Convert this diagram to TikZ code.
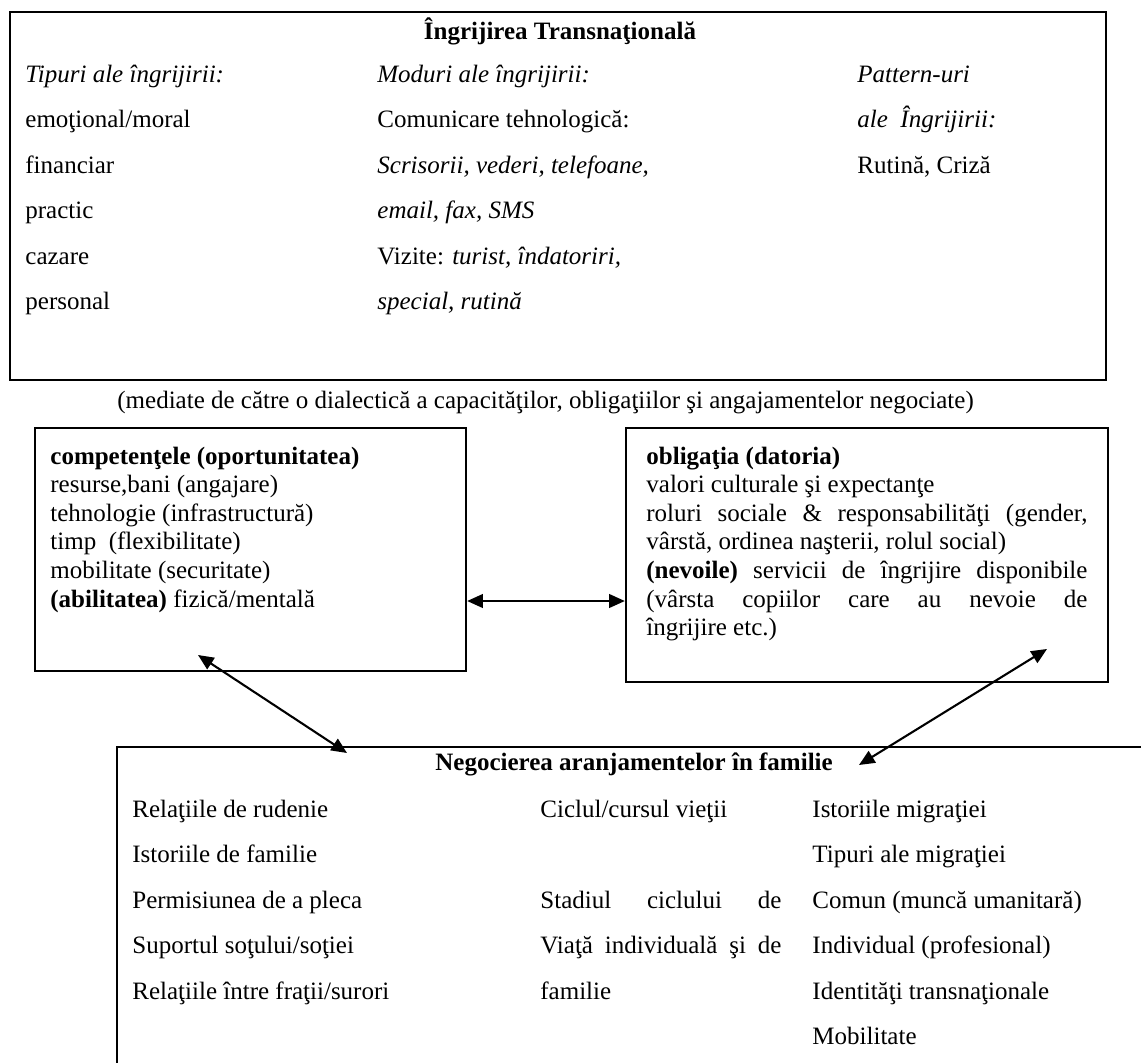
\documentclass[tikz,border=0pt]{standalone}
\usepackage{fontspec}
\setmainfont{Liberation Serif}
\usepackage{xcolor}
\usepackage{tikz}
\usetikzlibrary{positioning,arrows.meta,fit}
\definecolor{ink}   {HTML}{000000}
\definecolor{paper} {HTML}{FFFFFF}
\newcommand{\bodyfont}{\fontsize{12}{13.75}\selectfont}
\newcommand{\spreadbox}[2]{\makebox[#1][s]{#2}}
\tikzset{
  txt/.style   = {anchor=base west, inner sep=0pt, text=ink, font=\bodyfont},
  itx/.style   = {txt, font=\bodyfont\itshape},
  hd/.style    = {txt, font=\bodyfont\bfseries},
  frame/.style = {draw=ink, line width=1.1pt, inner sep=0pt},
  link/.style  = {{Triangle[length=7.5pt,width=6.5pt]}-{Triangle[length=7.5pt,width=6.5pt]},
                  draw=ink, line width=1pt},
}

\begin{document}
\begin{tikzpicture}[x=0.48pt, y=-0.48pt]
  \useasboundingbox[fill=paper] (0,0) rectangle (1141,1063);

  % top box
  \coordinate (careNW) at (10,12);
  \coordinate (careSE) at (1106,380);
  \node[frame, fit=(careNW)(careSE)] (care) {};
  \node[hd, anchor=base] (careT) at (560,39) {Îngrijirea Transnaţională};
  \node[itx] (tip0) at (25,82)    {Tipuri ale îngrijirii:};
  \node[txt] (tip1) at (25,127.5) {emoţional/moral};
  \node[txt] (tip2) at (25,173)   {financiar};
  \node[txt] (tip3) at (25,218.5) {practic};
  \node[txt] (tip4) at (25,264)   {cazare};
  \node[txt] (tip5) at (25,309.5) {personal};
  \node[itx] (mod0) at (377,82)    {Moduri ale îngrijirii:};
  \node[txt] (mod1) at (377,127.5) {Comunicare tehnologică:};
  \node[itx] (mod2) at (377,173)   {Scrisorii, vederi, telefoane,};
  \node[itx] (mod3) at (377,218.5) {email, fax, SMS};
  \node[txt] (mod4) at (377,264)   {Vizite: \textit{turist, îndatoriri,}};
  \node[itx] (mod5) at (377,309.5) {special, rutină};
  \node[itx] (pat0) at (857,82)    {Pattern-uri};
  \node[itx] (pat1) at (857,127.5) {ale\ \ Îngrijirii:};
  \node[txt] (pat2) at (857,173)   {Rutină, Criză};

  \node[txt] (cap) at (117,408)
    {(mediate de către o dialectică a capacităţilor, obligaţiilor şi angajamentelor negociate)};

  % left box
  \coordinate (compNW) at (35,428);
  \coordinate (compSE) at (466,671);
  \node[frame, fit=(compNW)(compSE)] (comp) {};
  \node[hd]  (comp1) at (50,464)   {competenţele (oportunitatea)};
  \node[txt] (comp2) at (50,492.6) {resurse,bani (angajare)};
  \node[txt] (comp3) at (50,521.2) {tehnologie (infrastructură)};
  \node[txt] (comp4) at (50,549.8) {timp\ \ (flexibilitate)};
  \node[txt] (comp5) at (50,578.4) {mobilitate (securitate)};
  \node[txt] (comp6) at (50,607)   {\textbf{(abilitatea)} fizică/mentală};

  % right box
  \coordinate (oblNW) at (626,428);
  \coordinate (oblSE) at (1108,682);
  \node[frame, fit=(oblNW)(oblSE)] (obl) {};
  \node[hd]  (obl1) at (646,464)   {obligaţia (datoria)};
  \node[txt] (obl2) at (646,492.6) {valori culturale şi expectanţe};
  \node[txt] (obl3) at (646,521.2) {\spreadbox{211.7pt}{roluri sociale \& responsabilităţi (gender,}};
  \node[txt] (obl4) at (646,549.8) {vârstă, ordinea naşterii, rolul social)};
  \node[txt] (obl5) at (646,578.4) {\spreadbox{211.7pt}{\textbf{(nevoile)} servicii de îngrijire disponibile}};
  \node[txt] (obl6) at (646,607)   {\spreadbox{211.7pt}{(vârsta copiilor care au nevoie de}};
  \node[txt] (obl7) at (646,635.6) {îngrijire etc.)};

  % bottom box
  \coordinate (negNE) at (1150,747);
  \coordinate (negNW) at (117,747);
  \coordinate (negSW) at (117,1075);
  \draw[frame] (negNE) -- (negNW) -- (negSW);
  \node[hd]  (negT) at (435,770) {Negocierea aranjamentelor în familie};
  \node[txt] (rel1) at (132,817)   {Relaţiile de rudenie};
  \node[txt] (rel2) at (132,862.5) {Istoriile de familie};
  \node[txt] (rel3) at (132,908)   {Permisiunea de a pleca};
  \node[txt] (rel4) at (132,953.5) {Suportul soţului/soţiei};
  \node[txt] (rel5) at (132,999)   {Relaţiile între fraţii/surori};
  \node[txt] (cic1) at (540,817)   {Ciclul/cursul vieţii};
  \node[txt] (cic2) at (540,908)   {\spreadbox{115.7pt}{Stadiul ciclului de}};
  \node[txt] (cic3) at (540,953.5) {\spreadbox{115.7pt}{Viaţă individuală şi de}};
  \node[txt] (cic4) at (540,999)   {familie};
  \node[txt] (mig1) at (812,817)    {Istoriile migraţiei};
  \node[txt] (mig2) at (812,862.5)  {Tipuri ale migraţiei};
  \node[txt] (mig3) at (812,908)    {Comun (muncă umanitară)};
  \node[txt] (mig4) at (812,953.5)  {Individual (profesional)};
  \node[txt] (mig5) at (812,999)    {Identităţi transnaţionale};
  \node[txt] (mig6) at (812,1044.5) {Mobilitate};

  % arrows
  \coordinate (midArr) at (546,601);
  \coordinate (compTip) at (198,655);
  \coordinate (negTipL) at (347,753);
  \coordinate (oblTip) at (1047,649);
  \coordinate (negTipR) at (859,765);
  \draw[link] (comp.east |- midArr) -- (obl.west |- midArr);
  \draw[link] (compTip) -- (negTipL);
  \draw[link] (oblTip) -- (negTipR);
\end{tikzpicture}
\end{document}
